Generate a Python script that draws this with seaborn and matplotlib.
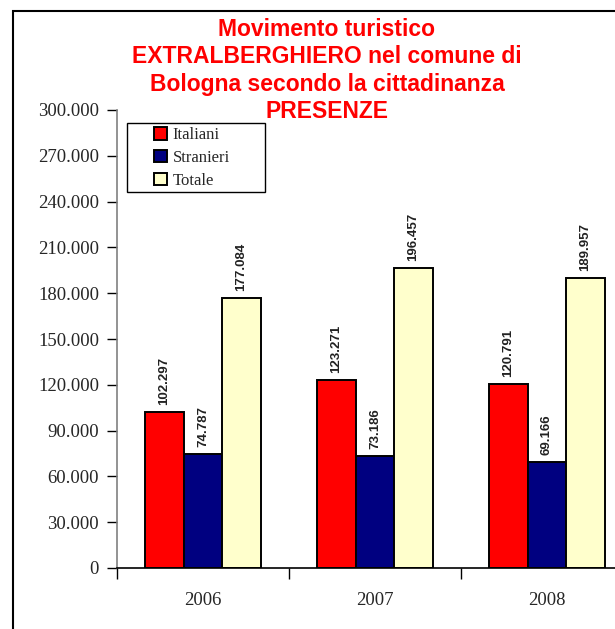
import numpy as np
import pandas as pd
import matplotlib
matplotlib.use('Agg')
import matplotlib.pyplot as plt
from matplotlib.patches import Rectangle
from matplotlib.ticker import FuncFormatter, FixedLocator
import seaborn as sns

# data
anni = ['2006', '2007', '2008']
serie = ['Italiani', 'Stranieri', 'Totale']
italiani = [102297, 123271, 120791]
stranieri = [74787, 73186, 69166]
totale = [177084, 196457, 189957]
colori = ['#FF0000', '#000080', '#FFFFCC']
titolo = ['Movimento turistico', 'EXTRALBERGHIERO nel comune di',
          'Bologna secondo la cittadinanza', 'PRESENZE']

df = pd.DataFrame({
    'anno': anni * 3,
    'serie': [s for s in serie for _ in anni],
    'presenze': italiani + stranieri + totale,
})


def punto_migliaia(v, pos=None):
    return f'{int(round(v)):,}'.replace(',', '.')


sns.set_theme(style='white')
plt.rcParams['font.family'] = ['Liberation Serif', 'DejaVu Serif']

fig = plt.figure(figsize=(6.15, 6.29), dpi=100)
ax = fig.add_axes([117 / 615, 1 - 568 / 629, 516 / 615, 458 / 629])

sns.barplot(data=df, x='anno', y='presenze', hue='serie', hue_order=serie,
            palette=colori, width=0.67, edgecolor='black', linewidth=1.4,
            saturation=1, ax=ax)

# value labels above the bars
for cont in ax.containers:
    etichette = [punto_migliaia(v) for v in cont.datavalues]
    ax.bar_label(cont, labels=etichette, rotation=90, padding=5,
                 fontsize=9.5, fontweight='bold', color='#222222',
                 family=['Liberation Sans', 'DejaVu Sans'])

ax.set_ylim(0, 300000)
ax.set_xlim(-0.5, 2.5)
ax.set_yticks(np.arange(0, 300001, 30000))
ax.yaxis.set_major_formatter(FuncFormatter(punto_migliaia))
ax.set_xlabel('')
ax.set_ylabel('')

ax.tick_params(axis='y', direction='out', length=7, width=1, color='black',
               labelsize=13.5, pad=6, left=True)
ax.tick_params(axis='x', which='major', length=0, labelsize=13.5, pad=17)
ax.xaxis.set_minor_locator(FixedLocator([-0.5, 0.5, 1.5, 2.5]))
ax.tick_params(axis='x', which='minor', direction='out', length=8, width=1,
               color='black', bottom=True)

for s in ['top', 'right']:
    ax.spines[s].set_visible(False)
ax.spines['left'].set_color('#808080')
ax.spines['left'].set_linewidth(1.2)
ax.spines['bottom'].set_color('black')
ax.spines['bottom'].set_linewidth(1.2)

# legend: entries without frame, box drawn around them
leg = ax.legend(loc='upper left', bbox_to_anchor=(0.072, 0.962), frameon=False,
                fontsize=12, handlelength=0.75, handleheight=0.75,
                handletextpad=0.35, labelspacing=0.4, borderpad=0,
                borderaxespad=0)
ax.add_patch(Rectangle((10 / 516, (568 - 192) / 458), 138 / 516, 69 / 458,
                       transform=ax.transAxes, fill=False, edgecolor='black',
                       linewidth=1, zorder=5))

# title, one line at a time
for i, riga in enumerate(titolo):
    fig.text(327 / 615, 1 - (36 + 27.3 * i) / 629, riga,
             ha='center', va='baseline', color='#FF0000', fontsize=16.5,
             fontweight='bold', family=['Liberation Sans', 'DejaVu Sans'])

# outer chart frame, cut at the right and bottom edge
fig.patches.append(Rectangle((13 / 615, -0.1), 1.2, 1.1 - 11 / 629,
                             transform=fig.transFigure, fill=False,
                             edgecolor='black', linewidth=1.5))

fig.savefig('out.png', dpi=100)
